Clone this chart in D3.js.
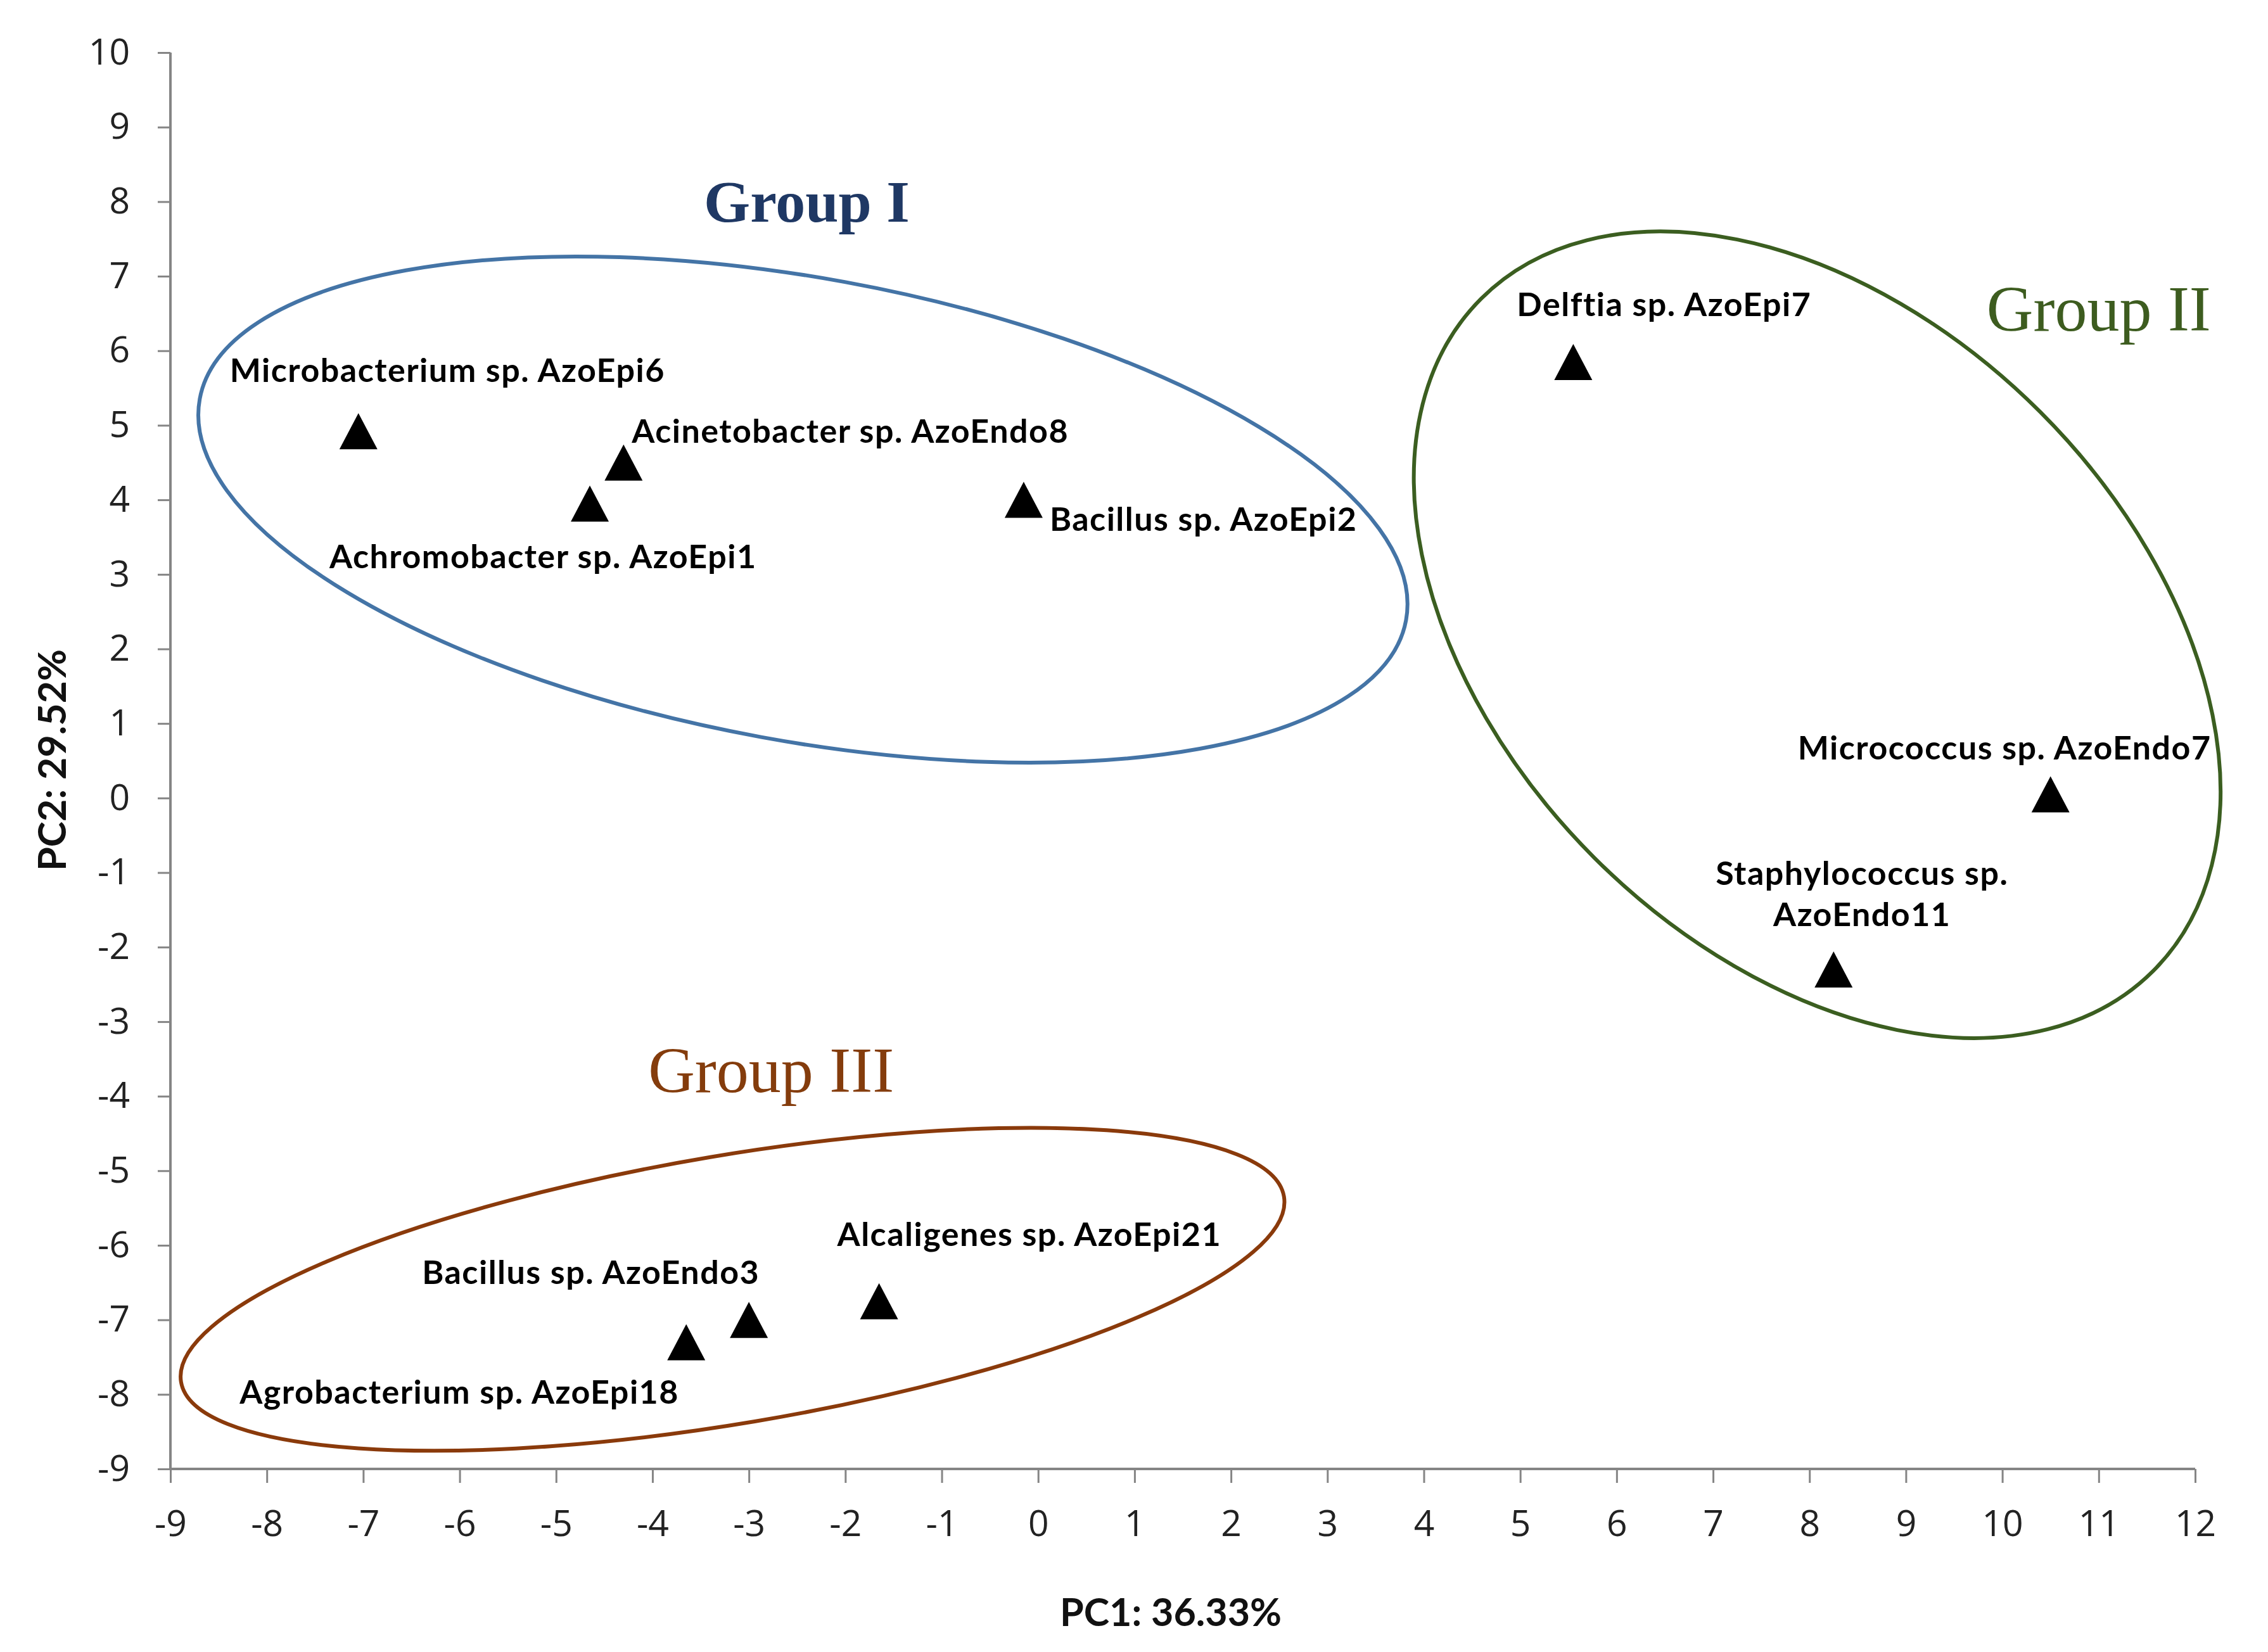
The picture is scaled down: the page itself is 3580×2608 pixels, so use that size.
<!DOCTYPE html>
<html>
<head>
<meta charset="utf-8">
<script src="https://cdn.jsdelivr.net/npm/d3@7/dist/d3.min.js"></script>
<style>
  html, body { margin: 0; padding: 0; background: #ffffff; }
  svg { display: block; }
</style>
</head>
<body>
<svg id="chart" width="3580" height="2608"></svg>
<script>
// ---------- data ----------
const strains = [
  ["Microbacterium sp. AzoEpi6"],
  ["Acinetobacter sp. AzoEndo8"],
  ["Achromobacter sp. AzoEpi1"],
  ["Bacillus sp. AzoEpi2"],
  ["Delftia sp. AzoEpi7"],
  ["Micrococcus sp. AzoEndo7"],
  ["Staphylococcus sp.", "AzoEndo11"],
  ["Agrobacterium sp. AzoEpi18"],
  ["Bacillus sp. AzoEndo3"],
  ["Alcaligenes sp. AzoEpi21"]
];
const pc1 = [-7.05, -4.30, -4.65, -0.15, 5.55, 10.50, 8.25, -3.65, -3.00, -1.65];
const pc2 = [ 4.92,  4.50,  3.95,  4.00, 5.85,  0.05, -2.30, -7.30, -7.00, -6.75];
const groupOf = [0, 0, 0, 0, 1, 1, 1, 2, 2, 2];

const groupNames = ["Group I", "Group II", "Group III"];
const xTickValues = [-9,-8,-7,-6,-5,-4,-3,-2,-1,0,1,2,3,4,5,6,7,8,9,10,11,12];
const yTickValues = [-9,-8,-7,-6,-5,-4,-3,-2,-1,0,1,2,3,4,5,6,7,8,9,10];
const xTitle = "PC1: 36.33%";
const yTitle = "PC2: 29.52%";

// ---------- annotation layout (not data) ----------
// label offsets in px from the marker centre
const labelOffsets = [
  {dx: -203, dy: -98, anchor: "start"},
  {dx: 13,   dy: -51, anchor: "start"},
  {dx: -411, dy: 82,  anchor: "start"},
  {dx: 41,   dy: 29,  anchor: "start"},
  {dx: -89,  dy: -92, anchor: "start"},
  {dx: -399, dy: -75, anchor: "start"},
  {dx: 45,   dy: -154, anchor: "middle"},
  {dx: -705, dy: 77,  anchor: "start"},
  {dx: -516, dy: -77, anchor: "start"},
  {dx: -66,  dy: -107, anchor: "start"}
];
// ellipse outlines: centre in data units, semi-axes in x-units, rotation in degrees
const ellipseCx = [-2.44, 8.08, -3.17];
const ellipseCy = [ 3.87, 2.19, -6.59];
const ellipseA  = [ 6.36, 4.93, 5.80];
const ellipseB  = [ 2.40, 3.27, 1.39];
const ellipseRot = [10.4, 45, -9.55];
const titleX = [-2.40, 11.0, -2.77];
const titleY = [ 7.73, 6.27, -3.94];
const titleColors = ["#1f3864", "#3d5c1f", "#843c0c"];
const ellipseColors = ["#4474a6", "#3b5e20", "#8a3a0b"];
const titleWeights = ["bold", "normal", "normal"];
const titleSizes = [94, 102, 102];

// ---------- scales ----------
const svg = d3.select("#chart");
svg.append("rect").attr("width", 3580).attr("height", 2608).attr("fill", "#ffffff");

const x = d3.scaleLinear().domain([-9, 12]).range([269, 3465]);
const y = d3.scaleLinear().domain([-9, 10]).range([2319, 83]);
const xUnit = x(1) - x(0);

// ---------- ellipses ----------
const ell = svg.append("g");
groupNames.forEach((g, i) => {
  ell.append("ellipse")
    .attr("cx", 0).attr("cy", 0)
    .attr("rx", ellipseA[i] * xUnit)
    .attr("ry", ellipseB[i] * xUnit)
    .attr("transform", `translate(${x(ellipseCx[i])},${y(ellipseCy[i])}) rotate(${ellipseRot[i]})`)
    .attr("fill", "none")
    .attr("stroke", ellipseColors[i])
    .attr("stroke-width", 6);
});

// ---------- axes ----------
const axisColor = "#858585";
const fmt = d => String(d);
const xAxis = d3.axisBottom(x).tickValues(xTickValues).tickFormat(fmt)
  .tickSize(22).tickPadding(44);
const yAxis = d3.axisLeft(y).tickValues(yTickValues).tickFormat(fmt)
  .tickSize(20).tickPadding(44);

const gx = svg.append("g").attr("transform", `translate(0,${y(-9)})`).call(xAxis);
const gy = svg.append("g").attr("transform", `translate(${x(-9)},0)`).call(yAxis);
[gx, gy].forEach(g => {
  g.select(".domain").attr("stroke", axisColor).attr("stroke-width", 4);
  g.selectAll(".tick line").attr("stroke", axisColor).attr("stroke-width", 3);
  g.selectAll(".tick text")
    .attr("fill", "#222222")
    .style("font-family", "'Open Sans', sans-serif")
    .style("font-size", "57px");
});
gy.select(".domain").attr("d", `M0,${y(10)}V${y(-9)}`);
gx.select(".domain").attr("d", `M${x(-9)},0H${x(12)}`);

// axis titles
svg.append("text")
  .attr("x", 1848).attr("y", 2543)
  .attr("text-anchor", "middle").attr("dominant-baseline", "central")
  .style("font-family", "Lato, sans-serif").style("font-weight", "bold")
  .style("font-size", "61px").attr("fill", "#111")
  .text(xTitle);
svg.append("text")
  .attr("transform", "translate(80,1200) rotate(-90)")
  .attr("text-anchor", "middle").attr("dominant-baseline", "central")
  .style("font-family", "Lato, sans-serif").style("font-weight", "bold")
  .style("font-size", "61px").attr("fill", "#111")
  .text(yTitle);

// ---------- group titles ----------
groupNames.forEach((g, i) => {
  svg.append("text")
    .attr("x", x(titleX[i])).attr("y", y(titleY[i]))
    .attr("text-anchor", "middle")
    .style("font-family", "'Liberation Serif', 'DejaVu Serif', serif")
    .style("font-weight", titleWeights[i])
    .style("font-size", titleSizes[i] + "px")
    .attr("fill", titleColors[i])
    .text(g);
});

// ---------- markers ----------
const triW = 60, triH = 57;
const pts = svg.append("g");
pc1.forEach((v, i) => {
  const cx = x(v), cy = y(pc2[i]);
  const p = d3.path();
  p.moveTo(cx, cy - triH / 2);
  p.lineTo(cx + triW / 2, cy + triH / 2);
  p.lineTo(cx - triW / 2, cy + triH / 2);
  p.closePath();
  pts.append("path").attr("d", p.toString()).attr("fill", "#000");
});

// ---------- labels ----------
const labs = svg.append("g")
  .style("font-family", "Lato, sans-serif")
  .style("font-weight", "bold")
  .style("font-size", "52px")
  .style("letter-spacing", "1.5px")
  .attr("fill", "#000");
strains.forEach((lines, i) => {
  const o = labelOffsets[i];
  const t = labs.append("text")
    .attr("x", x(pc1[i]) + o.dx)
    .attr("y", y(pc2[i]) + o.dy)
    .attr("text-anchor", o.anchor)
    .attr("dominant-baseline", "central");
  lines.forEach((ln, k) => {
    t.append("tspan")
      .attr("x", x(pc1[i]) + o.dx)
      .attr("dy", k === 0 ? 0 : 65)
      .text(ln);
  });
});
</script>
</body>
</html>
